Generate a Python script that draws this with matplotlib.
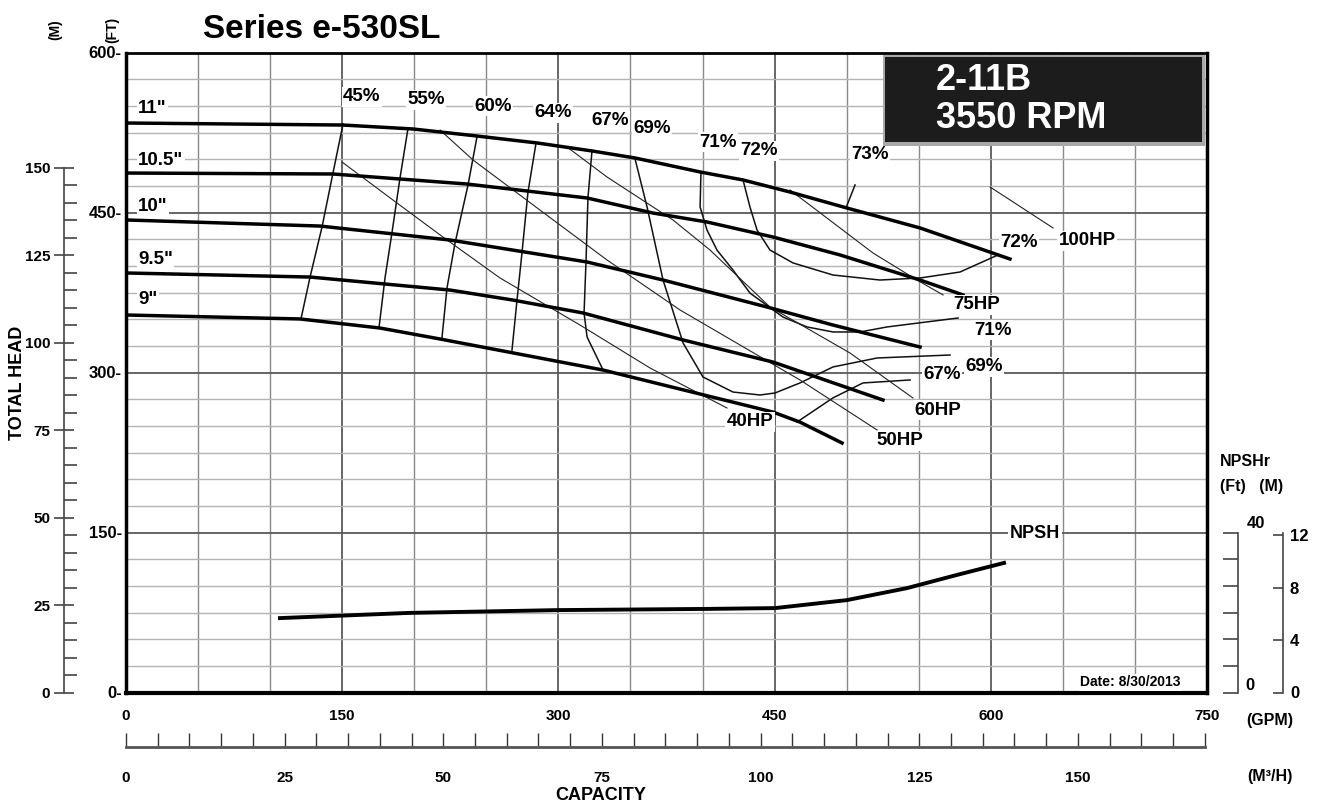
import numpy
import matplotlib
matplotlib.use("Agg")
import matplotlib.pyplot as pyplot
import matplotlib.patches as patches


pyplot.rcParams["font.family"] = ["Liberation Sans", "DejaVu Sans"]
pyplot.rcParams["font.weight"] = "bold"

FT_PER_M = 3.28084
GPM_PER_M3H = 4.40287

# impeller head curves (GPM, ft)
d11_gpm = [0, 150.6, 199.1, 243.5, 285.2, 323.3, 353.2, 398.3, 428.1, 460.7, 500.2, 550.9, 613.3]
d11_ft = [533.9, 532.0, 528.3, 521.7, 515.2, 507.7, 501.1, 488.0, 480.5, 469.2, 454.2, 435.5, 406.4]
d105_gpm = [0, 143.6, 236.6, 319.9, 365.6, 403.1, 448.9, 495.4, 550.9, 580.7]
d105_ft = [487.0, 486.1, 476.7, 463.6, 449.5, 441.1, 427.0, 410.2, 386.7, 372.7]
d10_gpm = [0, 134.6, 224.8, 319.9, 372.6, 444.7, 490.5, 550.9]
d10_ft = [443.0, 437.3, 424.2, 403.6, 386.7, 361.4, 344.5, 323.9]
d95_gpm = [0, 127.7, 224.8, 268.5, 317.1, 386.5, 448.9, 525.2]
d95_ft = [393.3, 389.5, 377.3, 367.9, 355.8, 330.5, 309.8, 274.2]
d9_gpm = [0, 120.7, 176.2, 217.9, 331.0, 448.9, 467.6, 496.8]
d9_ft = [353.9, 350.2, 341.7, 331.4, 302.3, 262.9, 253.5, 233.9]

diameterLabels = ['11"', '10.5"', '10"', '9.5"', '9"']
diameterLabelFt = [547.9, 499.2, 455.4, 406.4, 368.0]

# iso-efficiency lines
e45_gpm = [150.6, 143.6, 136.0, 127.7, 121.4]
e45_ft = [533.0, 487.0, 436.4, 389.5, 350.2]
e55_gpm = [195.7, 190.1, 184.6, 179.7, 175.5]
e55_ft = [529.2, 482.3, 431.7, 388.6, 341.7]
e60_gpm = [243.5, 237.3, 228.3, 222.7, 219.2]
e60_ft = [520.8, 475.8, 421.4, 379.2, 332.3]
e64_gpm = [284.5, 278.9, 274.8, 271.3, 267.8]
e64_ft = [515.2, 469.2, 413.0, 368.0, 321.0]
e67a_gpm = [323.3, 320.5, 319.2, 317.8, 319.9, 331.0]
e67a_ft = [507.7, 463.6, 405.5, 355.8, 333.3, 302.3]
e67b_gpm = [465.6, 490.5, 511.3, 544.0]
e67b_ft = [253.6, 276.2, 290.2, 293.0]
e69_gpm = [353.2, 361.5, 372.6, 386.5, 400.3, 421.1, 439.9, 450.3, 467.6, 490.5, 521.1, 571.7]
e69_ft = [500.2, 455.2, 386.7, 327.7, 295.8, 281.7, 278.9, 280.8, 290.2, 305.2, 313.6, 316.4]
e71_gpm = [398.9, 398.3, 403.1, 410.0, 421.1, 432.9, 455.8, 472.5, 490.5, 509.3, 528.0, 577.3]
e71_ft = [487.0, 455.2, 433.6, 414.8, 396.1, 374.5, 352.0, 342.7, 338.0, 338.0, 342.7, 351.1]
e72_gpm = [428.1, 432.9, 437.8, 446.8, 462.8, 490.5, 523.1, 550.9, 578.6, 605.0]
e72_ft = [480.5, 455.2, 433.6, 414.8, 402.7, 391.4, 386.7, 388.6, 394.2, 410.2]
e73_gpm = [505.8, 499.5]
e73_ft = [475.8, 454.2]

effLabels = ["45%", "55%", "60%", "64%", "67%", "69%", "71%", "72%", "73%"]
effLabelGpm = [163.7, 208.2, 254.6, 296.3, 335.8, 365.0, 410.7, 439.2, 516.2]
effLabelFt = [558.3, 555.5, 549.8, 543.3, 535.8, 528.3, 516.0, 507.7, 504.0]

# horsepower lines
hp40_gpm = [149.9, 188.0, 219.9, 259.5, 315.0, 363.6, 417.0]
hp40_ft = [497.3, 458.9, 427.0, 388.6, 344.5, 304.2, 266.7]
hp50_gpm = [217.9, 240.8, 287.2, 333.7, 384.4, 467.6, 521.1]
hp50_ft = [527.3, 499.2, 452.3, 405.5, 358.6, 293.0, 246.1]
hp60_gpm = [306.0, 333.7, 379.5, 405.2, 446.8, 502.3, 546.0]
hp60_ft = [511.4, 483.3, 443.0, 414.8, 361.4, 318.3, 276.1]
hp75_gpm = [460.7, 518.3, 548.8, 566.9]
hp75_ft = [471.1, 412.0, 386.7, 372.7]
hp100_gpm = [599.5, 643.2]
hp100_ft = [473.9, 435.5]

sideLabels = ["72%", "100HP", "75HP", "71%", "69%", "67%", "60HP", "50HP", "40HP"]
sideLabelGpm = [619.6, 667.0, 590.0, 601.5, 595.5, 566.2, 563.5, 537.0, 433.0]
sideLabelFt = [422.3, 423.3, 363.3, 339.8, 305.2, 297.7, 264.8, 235.8, 253.6]

# required NPSH (GPM, ft of NPSH)
npsh_gpm = [106.8, 196.4, 299.7, 403.8, 450.3, 500.2, 541.9, 576.6, 609.2]
npsh_ft = [18.6, 19.9, 20.6, 20.9, 21.1, 23.1, 26.1, 29.4, 32.4]


W, H = 1319.0, 806.0

def box(x0, y0, x1, y1):
    return [x0 / W, 1 - y1 / H, (x1 - x0) / W, (y1 - y0) / H]

def onlySpine(ax, keep):
    for side in ["top", "bottom", "left", "right"]:
        ax.spines[side].set_visible(side == keep)
    ax.patch.set_visible(False)

labelBox = dict(facecolor="white", edgecolor="none", pad=1.0)

figure = pyplot.figure(figsize=(W / 100, H / 100), dpi=100)

axes = figure.add_axes(box(126, 52.5, 1207, 692.5))
axes.set_xlim(0, 750)
axes.set_ylim(0, 600)
axes.set_xticks(numpy.arange(0, 751, 150))
axes.set_xticks(numpy.arange(0, 751, 50), minor=True)
axes.set_yticks(numpy.arange(0, 601, 150))
axes.set_yticks(numpy.arange(0, 601, 25), minor=True)
axes.set_yticklabels(["%d-" % v for v in range(0, 601, 150)])
axes.tick_params(which="both", length=0)
axes.tick_params(axis="x", pad=12, labelsize=11)
axes.tick_params(axis="y", pad=3, labelsize=12)
axes.grid(which="major", color="#5a5a5a", linewidth=1.3)
axes.grid(which="minor", axis="x", color="#8a8a8a", linewidth=1.0)
axes.grid(which="minor", axis="y", color="#b4b4b4", linewidth=1.0)
axes.set_axisbelow(True)
for side, lw in [("left", 2.5), ("bottom", 3.0), ("right", 2.5), ("top", 2.0)]:
    axes.spines[side].set_linewidth(lw)

for gpm, ft in [(d11_gpm, d11_ft), (d105_gpm, d105_ft), (d10_gpm, d10_ft),
                (d95_gpm, d95_ft), (d9_gpm, d9_ft)]:
    axes.plot(gpm, ft, color="black", linewidth=2.5, zorder=4)

for gpm, ft in [(e45_gpm, e45_ft), (e55_gpm, e55_ft), (e60_gpm, e60_ft), (e64_gpm, e64_ft),
                (e67a_gpm, e67a_ft), (e67b_gpm, e67b_ft), (e69_gpm, e69_ft),
                (e71_gpm, e71_ft), (e72_gpm, e72_ft), (e73_gpm, e73_ft)]:
    axes.plot(gpm, ft, color="#111111", linewidth=1.1, zorder=3)

for gpm, ft in [(hp40_gpm, hp40_ft), (hp50_gpm, hp50_ft), (hp60_gpm, hp60_ft),
                (hp75_gpm, hp75_ft), (hp100_gpm, hp100_ft)]:
    axes.plot(gpm, ft, color="#222222", linewidth=0.8, zorder=3)

for text, ft in zip(diameterLabels, diameterLabelFt):
    axes.text(8.3, ft, text, fontsize=13.5, ha="left", va="center", bbox=labelBox, zorder=5)

for text, gpm, ft in zip(effLabels, effLabelGpm, effLabelFt):
    axes.text(gpm, ft, text, fontsize=13.5, ha="center", va="center", bbox=labelBox, zorder=5)

for text, gpm, ft in zip(sideLabels, sideLabelGpm, sideLabelFt):
    axes.text(gpm, ft, text, fontsize=13.5, ha="center", va="center", bbox=labelBox, zorder=5)

axes.text(630.7, 149.5, "NPSH", fontsize=13, ha="center", va="center", bbox=labelBox, zorder=5)
axes.text(697.0, 9.5, "Date: 8/30/2013", fontsize=10, ha="center", va="center", bbox=labelBox, zorder=5)

npshAxes = axes.twinx()
npshAxes.set_ylim(0, 160)
npshAxes.axis("off")
npshAxes.plot(npsh_gpm, npsh_ft, color="black", linewidth=2.8)

# metre scale on the left
meterAxes = figure.add_axes(box(64, 52.5, 65, 692.5))
onlySpine(meterAxes, "left")
meterAxes.set_ylim(0, 600 / FT_PER_M)
meterAxes.spines["left"].set_bounds(0, 150)
meterAxes.spines["left"].set_color("#444444")
meterAxes.spines["left"].set_linewidth(1.2)
meterAxes.set_xticks([])
meterAxes.set_yticks(numpy.arange(0, 151, 25))
meterAxes.set_yticks(numpy.arange(0, 151, 5), minor=True)
meterAxes.tick_params(axis="y", which="major", direction="inout", length=14, width=1.2,
                      color="#444444", pad=3, labelsize=11)
meterAxes.tick_params(axis="y", which="minor", direction="in", length=9, width=1.2, color="#444444")

# cubic metres per hour scale under the chart
flowAxes = figure.add_axes(box(126, 746, 1207, 747))
onlySpine(flowAxes, "bottom")
flowAxes.set_xlim(0, 750 / GPM_PER_M3H)
flowAxes.spines["bottom"].set_bounds(0, 170)
flowAxes.spines["bottom"].set_linewidth(2.0)
flowAxes.spines["bottom"].set_color("#555555")
flowAxes.set_yticks([])
flowAxes.set_xticks(numpy.arange(0, 151, 25))
flowAxes.set_xticks(numpy.arange(0, 171, 5), minor=True)
flowAxes.tick_params(axis="x", which="both", direction="in", length=10, width=1.0,
                     color="#333333", pad=17, labelsize=11)

# NPSHr scales on the right
npshFtAxes = figure.add_axes(box(1223, 532.5, 1238, 692.5))
onlySpine(npshFtAxes, "right")
npshFtAxes.set_ylim(0, 40)
npshFtAxes.set_xticks([])
npshFtAxes.yaxis.tick_right()
npshFtAxes.set_yticks(numpy.linspace(0, 40, 7))
npshFtAxes.tick_params(axis="y", direction="in", length=11, width=1.2, color="#444444", labelright=False)
npshFtAxes.spines["right"].set_color("#444444")
npshFtAxes.spines["right"].set_linewidth(1.2)

npshMAxes = figure.add_axes(box(1273, 532.5, 1283, 692.5))
onlySpine(npshMAxes, "right")
npshMAxes.set_ylim(0, 40 / FT_PER_M)
npshMAxes.set_xticks([])
npshMAxes.yaxis.tick_right()
npshMAxes.set_yticks([0, 4, 8, 12])
npshMAxes.tick_params(axis="y", direction="in", length=7, width=1.2, color="#444444", pad=5, labelsize=12)
npshMAxes.spines["right"].set_color("#444444")
npshMAxes.spines["right"].set_linewidth(1.2)

# header box
figure.patches.append(patches.Rectangle((883 / W, 1 - 146 / H), 322 / W, 91 / H,
                      transform=figure.transFigure, facecolor="#a8a8a8", edgecolor="none", zorder=6))
figure.patches.append(patches.Rectangle((885 / W, 1 - 142 / H), 317 / W, 85 / H,
                      transform=figure.transFigure, facecolor="#1c1c1c", edgecolor="none", zorder=7))
figure.text(936 / W, 1 - 80 / H, "2-11B", color="white", fontsize=26, va="center", zorder=8)
figure.text(936 / W, 1 - 119 / H, "3550 RPM", color="white", fontsize=26, va="center", zorder=8)

figure.text(203 / W, 1 - 30 / H, "Series e-530SL", fontsize=24, va="center")
figure.text(55 / W, 1 - 30 / H, "(M)", fontsize=10, rotation=90, ha="center", va="center")
figure.text(112 / W, 1 - 30 / H, "(FT)", fontsize=10, rotation=90, ha="center", va="center")
figure.text(18 / W, 1 - 383 / H, "TOTAL HEAD", fontsize=13, rotation=90, ha="center", va="center")
figure.text(601 / W, 1 - 795 / H, "CAPACITY", fontsize=13, ha="center", va="center")
figure.text(1270 / W, 1 - 720 / H, "(GPM)", fontsize=11.5, ha="center", va="center")
figure.text(1270 / W, 1 - 776 / H, "(M³/H)", fontsize=11.5, ha="center", va="center")
figure.text(1220 / W, 1 - 462 / H, "NPSHr", fontsize=11.5, ha="left", va="center")
figure.text(1220 / W, 1 - 486 / H, "(Ft)   (M)", fontsize=11.5, ha="left", va="center")
figure.text(1256 / W, 1 - 524 / H, "40", fontsize=12, ha="center", va="center")
figure.text(1250 / W, 1 - 686 / H, "0", fontsize=12, ha="center", va="center")

figure.savefig("out.png", dpi=100)
